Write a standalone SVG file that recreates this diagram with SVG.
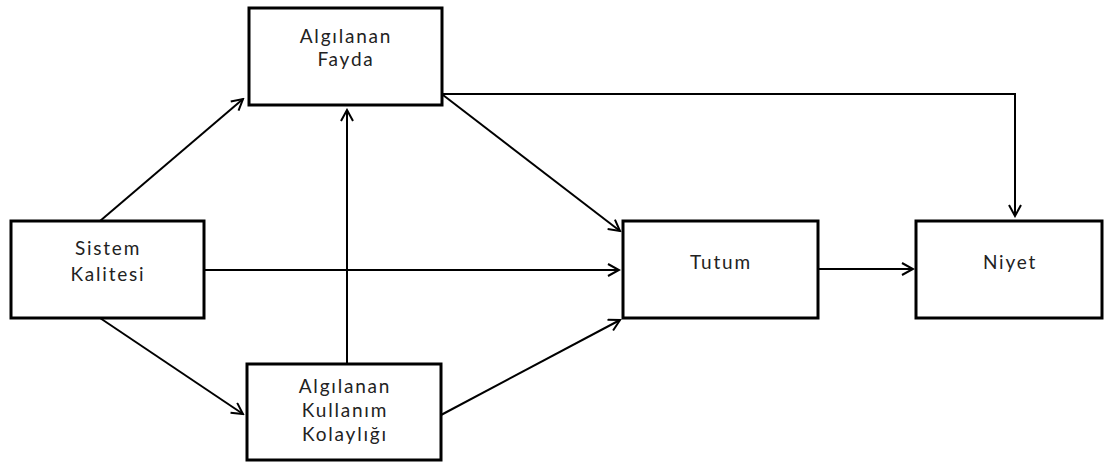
<svg xmlns="http://www.w3.org/2000/svg" width="1105" height="462" viewBox="0 0 1105 462">
<style>
.box{fill:#fff;stroke:#000;stroke-width:3}
.lbl{font-family:Lato,"Open Sans",sans-serif;font-size:19px;letter-spacing:1.8px;fill:#222;text-anchor:middle}
.con{fill:none;stroke:#000;stroke-width:2}
</style>
<defs>
<marker id="ah" markerWidth="14" markerHeight="14" refX="12" refY="7" orient="auto" markerUnits="userSpaceOnUse">
<path d="M1,1 L12,7 L1,13" fill="none" stroke="#000" stroke-width="2"/>
</marker>
</defs>
<rect width="1105" height="462" fill="#fff"/>
<g id="connectors">
<line class="con" x1="100" y1="221" x2="243" y2="99" marker-end="url(#ah)"/>
<line class="con" x1="100" y1="318" x2="243" y2="414" marker-end="url(#ah)"/>
<line class="con" x1="204" y1="270" x2="619" y2="270" marker-end="url(#ah)"/>
<line class="con" x1="347" y1="364" x2="347" y2="110" marker-end="url(#ah)"/>
<line class="con" x1="443" y1="95" x2="620" y2="231" marker-end="url(#ah)"/>
<line class="con" x1="441" y1="415" x2="620" y2="320" marker-end="url(#ah)"/>
<polyline class="con" points="443,94 1015,94 1015,216" marker-end="url(#ah)"/>
<line class="con" x1="818" y1="269" x2="913" y2="269" marker-end="url(#ah)"/>
</g>
<g id="fayda">
<rect class="box" x="249" y="8" width="193" height="97"/>
<text class="lbl" x="346" y="43">Algılanan</text>
<text class="lbl" x="346" y="66">Fayda</text>
</g>
<g id="sistem">
<rect class="box" x="11" y="221" width="193" height="97"/>
<text class="lbl" x="108" y="255">Sistem</text>
<text class="lbl" x="108" y="281">Kalitesi</text>
</g>
<g id="kolaylik">
<rect class="box" x="247" y="364" width="194" height="96"/>
<text class="lbl" x="345" y="393">Algılanan</text>
<text class="lbl" x="345" y="417">Kullanım</text>
<text class="lbl" x="345" y="441">Kolaylığı</text>
</g>
<g id="tutum">
<rect class="box" x="623" y="221" width="195" height="97"/>
<text class="lbl" x="721" y="269">Tutum</text>
</g>
<g id="niyet">
<rect class="box" x="916" y="221" width="186" height="97"/>
<text class="lbl" x="1010" y="269">Niyet</text>
</g>
</svg>
